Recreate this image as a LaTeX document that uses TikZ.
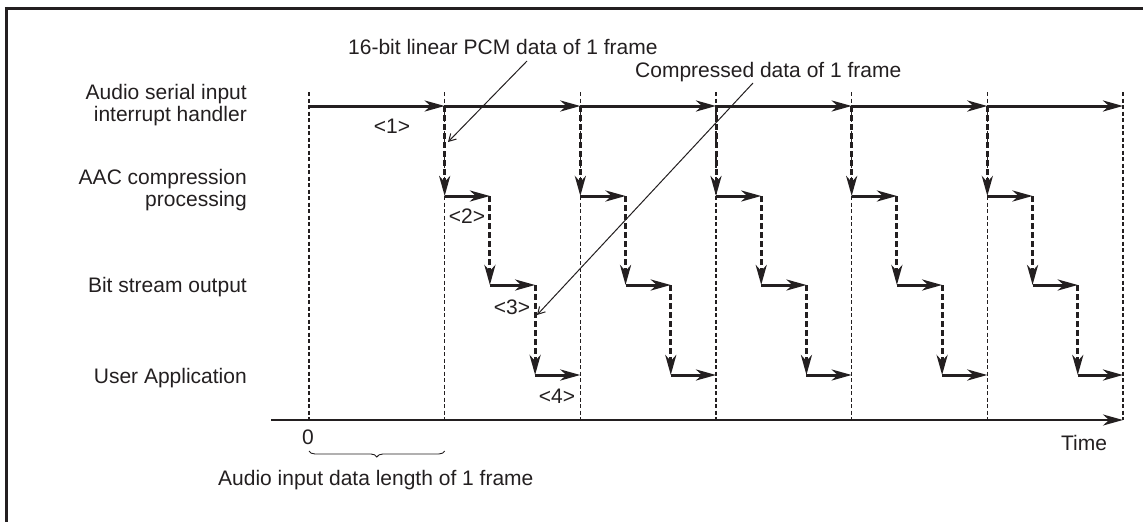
\documentclass[tikz,border=0pt]{standalone}
\usepackage{fontspec}
\setmainfont{Liberation Sans}
\usetikzlibrary{arrows.meta,decorations.pathreplacing}
\definecolor{ink}{RGB}{35,31,32}
\begin{document}
\begin{tikzpicture}[x=1pt,y=-1pt,
  every node/.style={font=\fontsize{21}{22}\selectfont, text=ink, inner sep=0pt},
  bighead/.style={-{Stealth[length=20pt,width=11pt,inset=6pt]}},
  flow/.style={draw=ink, line width=3pt, bighead},
  handoff/.style={draw=ink, line width=3pt, dash pattern=on 6pt off 3pt, bighead},
  guide/.style={draw=ink, line width=1.1pt, dash pattern=on 4pt off 2.5pt},
  leader/.style={draw=ink, line width=1pt, -{Straight Barb[length=7pt,width=8pt]}},
  axisline/.style={draw=ink, line width=2pt, bighead},
  frameline/.style={draw=ink, line width=3.2pt},
  bracestyle/.style={draw=ink, line width=0.9pt, decorate, decoration={brace, mirror, amplitude=6pt}}
]
\useasboundingbox (0,0) rectangle (1143,522);

% frame (top and left edges)
\coordinate (ftl) at (6.5,8.5);
\coordinate (ftr) at (1143,8.5);
\coordinate (fbl) at (6.5,522);
\draw[frameline] ([xshift=-1.6pt]ftl) -- (ftr);
\draw[frameline] ([yshift=1.6pt]ftl) -- (fbl);

% grid coordinates
\foreach \i in {0,...,6} {
  \coordinate (t\i) at ({309+135.667*\i},92);
  \coordinate (b\i) at ({309+135.667*\i},420);
  \coordinate (ra\i) at ({309+135.667*\i},106);
}
\foreach \i in {1,...,5} {
  \coordinate (rb\i) at ({309+135.667*\i},196);
  \coordinate (rbe\i) at ({309+135.667*\i+45.22},196);
  \coordinate (rc\i) at ({309+135.667*\i+45.22},285);
  \coordinate (rce\i) at ({309+135.667*\i+90.44},285);
  \coordinate (rd\i) at ({309+135.667*\i+90.44},375);
  \coordinate (rde\i) at ({309+135.667*(\i+1)},375);
}

% dashed guides
\foreach \i in {0,...,6} { \draw[guide] (t\i) -- (b\i); }

% time axis
\coordinate (axstart) at (271,420);
\draw[axisline] (axstart) -- (b6);

% interrupt handler row
\foreach \i in {0,...,5} {
  \pgfmathtruncatemacro\j{\i+1}
  \draw[flow] (ra\i) -- (ra\j);
}

% processing cascades
\foreach \i in {1,...,5} {
  \draw[handoff] (ra\i) -- (rb\i);
  \draw[flow] (rb\i) -- (rbe\i);
  \draw[handoff] (rbe\i) -- (rc\i);
  \draw[flow] (rc\i) -- (rce\i);
  \draw[handoff] (rce\i) -- (rd\i);
  \draw[flow] (rd\i) -- (rde\i);
}

% row labels
\node[anchor=east, align=right] (lab1) at (247,105.5) {Audio serial input\\interrupt handler};
\node[anchor=east, align=right] (lab2) at (247,190.5) {AAC compression\\processing};
\node[anchor=base east] (lab3) at (247,292) {Bit stream output};
\node[anchor=base east] (lab4) at (247,383) {User Application};

% step labels
\node (s1) at (392,126) {<1>};
\node (s2) at (467,216.5) {<2>};
\node (s3) at (512,307) {<3>};
\node (s4) at (557,396) {<4>};

% annotations
\node[anchor=base west] (pcm) at (348,54) {16-bit linear PCM data of 1 frame};
\node[anchor=base west] (cmp) at (635,77) {Compressed data of 1 frame};
\coordinate (pcmfrom) at (527,61);
\coordinate (pcmto) at (448,142);
\coordinate (cmpfrom) at (753,83);
\coordinate (cmpto) at (537,315);
\draw[leader] (pcmfrom) -- (pcmto);
\draw[leader] (cmpfrom) -- (cmpto);

% axis labels
\node[anchor=base] (zero) at (308,444) {0};
\node[anchor=base] (time) at (1084,450) {Time};
\coordinate (br1) at (309,451);
\coordinate (br2) at (444.7,451);
\draw[bracestyle] (br1) -- (br2);
\node[anchor=base west] (len) at (218,485) {Audio input data length of 1 frame};
\end{tikzpicture}
\end{document}
